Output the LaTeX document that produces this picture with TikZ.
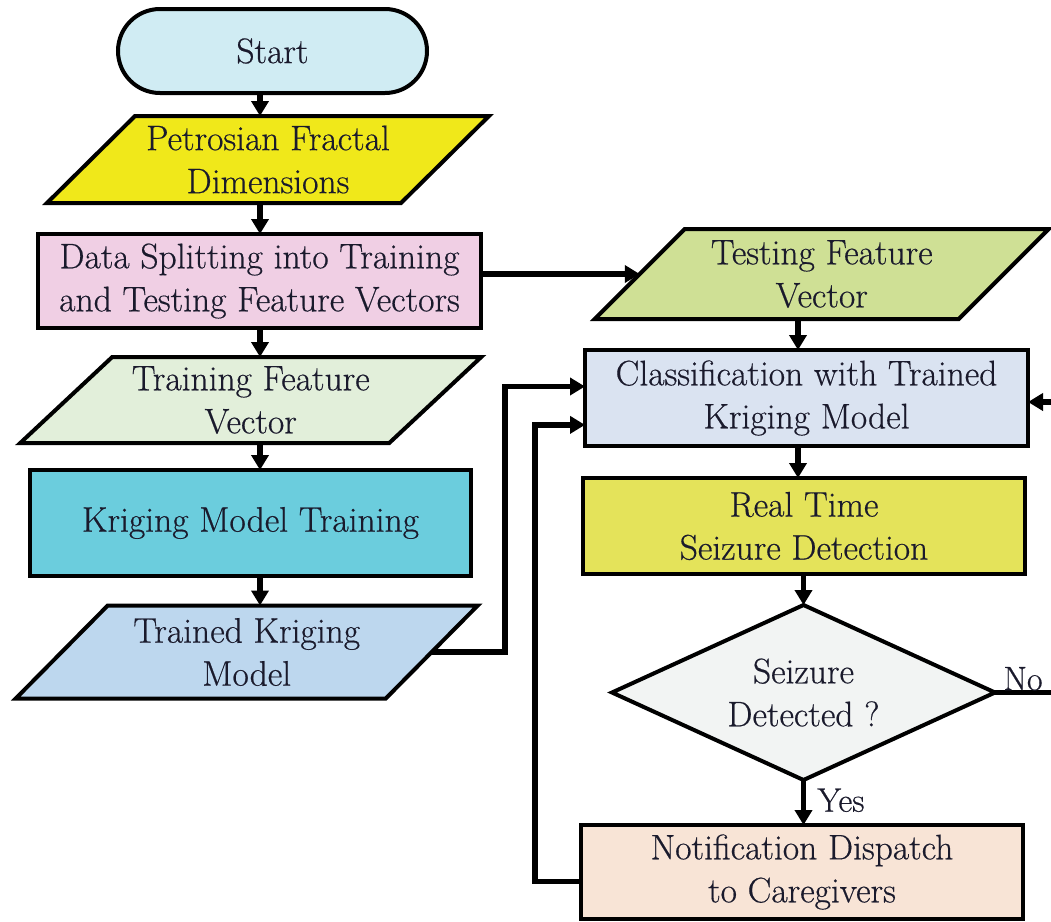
\documentclass[tikz,border=0pt]{standalone}
\usepackage{fontspec}
\newfontfamily\chartfont{Latin Modern Roman}[FakeBold=0.5]
\usetikzlibrary{arrows.meta,shapes.geometric,shapes.misc,calc,backgrounds}

\definecolor{ink}{HTML}{1A1A2C}
\definecolor{cStart}{HTML}{D0ECF3}
\definecolor{cPfd}{HTML}{F0E81A}
\definecolor{cSplit}{HTML}{F0CFE4}
\definecolor{cTest}{HTML}{CFE095}
\definecolor{cClass}{HTML}{DAE3F1}
\definecolor{cTrain}{HTML}{E2EFDA}
\definecolor{cKrig}{HTML}{6BCDDD}
\definecolor{cModel}{HTML}{BDD7EE}
\definecolor{cReal}{HTML}{E4E35A}
\definecolor{cDec}{HTML}{F2F4F3}
\definecolor{cNote}{HTML}{F8E4D6}

% slanted input/output box drawn around a text node: name, half slant, fill
\newcommand\slantbox[3]{%
  \draw[border, fill=#3]
    ($(#1.north west)+(#2,0)$) -- ($(#1.north east)+(#2,0)$) --
    ($(#1.south east)+(-#2,0)$) -- ($(#1.south west)+(-#2,0)$) -- cycle;}

\begin{document}
\begin{tikzpicture}[x=1pt,y=-1pt,
  every node/.style={font=\chartfont\fontsize{35.5}{43}\selectfont, text=ink,
    inner sep=0pt, outer sep=0pt, align=center},
  border/.style={draw=black, line width=4pt, line join=miter},
  procbox/.style={border, rectangle},
  iotext/.style={rectangle},
  conn/.style={line width=5.5pt, line join=miter, draw=black},
  arr/.style={conn, -{Triangle[length=15pt,width=17pt]}},
  lbl/.style={font=\chartfont\fontsize{34}{40}\selectfont}
]
\useasboundingbox (0,0) rectangle (1051,921);

% column guides for the vertical connectors
\coordinate (lcol) at (260,0);
\coordinate (rcol) at (798,0);

% left column
\node[rounded rectangle, border, fill=cStart, minimum width=309pt,
      minimum height=84pt] (start) at (272.5,51) {Start};
\node[iotext, minimum width=354pt, minimum height=87pt] (pfd) at (268,159.5)
  {Petrosian Fractal\\Dimensions};
\node[procbox, fill=cSplit, minimum width=443pt, minimum height=94pt]
  (split) at (259.5,281) {Data Splitting into Training\\and Testing Feature Vectors};
\node[iotext, minimum width=369pt, minimum height=86pt] (train) at (250.75,400)
  {Training Feature\\Vector};
\node[procbox, fill=cKrig, minimum width=441pt, minimum height=106pt]
  (krig) at (250.5,523) {Kriging Model Training};
\node[iotext, minimum width=370pt, minimum height=93pt] (model) at (246.75,652)
  {Trained Kriging\\Model};

% right column
\node[iotext, minimum width=364pt, minimum height=90pt] (test) at (821.75,274)
  {Testing Feature\\Vector};
\node[procbox, fill=cClass, minimum width=443pt, minimum height=96pt]
  (cls) at (806.5,398) {Classification with Trained\\Kriging Model};
\node[procbox, fill=cReal, minimum width=442pt, minimum height=96pt]
  (real) at (804,526) {Real Time\\Seizure Detection};
\node[diamond, aspect=2.19, border, fill=cDec, minimum width=383pt,
      minimum height=175pt] (dec) at (803.5,692.5) {Seizure\\Detected ?};
\node[procbox, fill=cNote, minimum width=442pt, minimum height=94pt]
  (note) at (802,872) {Notification Dispatch\\to Caregivers};

% slanted input/output boxes behind their texts
\begin{scope}[on background layer]
  \slantbox{pfd}{44}{cPfd}
  \slantbox{test}{45}{cTest}
  \slantbox{train}{46}{cTrain}
  \slantbox{model}{46}{cModel}
\end{scope}

% main flow
\draw[arr] (start.south -| lcol) -- (pfd.north -| lcol);
\draw[arr] (pfd.south -| lcol) -- (split.north -| lcol);
\draw[arr] (split.south -| lcol) -- (train.north -| lcol);
\draw[arr] (train.south -| lcol) -- (krig.north -| lcol);
\draw[arr] (krig.south -| lcol) -- (model.north -| lcol);

\draw[arr] (test.west -| split.east) -- (test.west);
\draw[arr] (test.south -| rcol) -- (cls.north -| rcol);
\draw[arr] (cls.south -| rcol) -- (real.north -| rcol);
\draw[arr] (real.south -| dec.north) -- (dec.north);
\draw[arr] (dec.south) -- (note.north -| dec.south)
  node[lbl, pos=0.45, anchor=west, xshift=14pt] (yes) {Yes};

% trained model and notification feed back into the classifier
\coordinate (j1) at (505,0);
\coordinate (j2) at (535,0);
\coordinate (in1) at ($(cls.north west)!0.38!(cls.south west)$);
\coordinate (in2) at ($(cls.north west)!0.78!(cls.south west)$);
\coordinate (out2) at ($(note.north west)!0.6!(note.south west)$);
\draw[arr] (model.east) -| (in1 -| j1) -- (in1);
\draw[arr] (out2) -| (in2 -| j2) -- (in2);

% "No" branch loops back round the right-hand side
\coordinate (noEnd) at (1051,692.5);
\coordinate (backIn) at (1051,402);
\draw[conn] (dec.east) -- (noEnd)
  node[lbl, pos=0.5, anchor=south, yshift=2pt] (no) {No};
\draw[arr] (backIn) -- (cls.east |- backIn);
\end{tikzpicture}
\end{document}
